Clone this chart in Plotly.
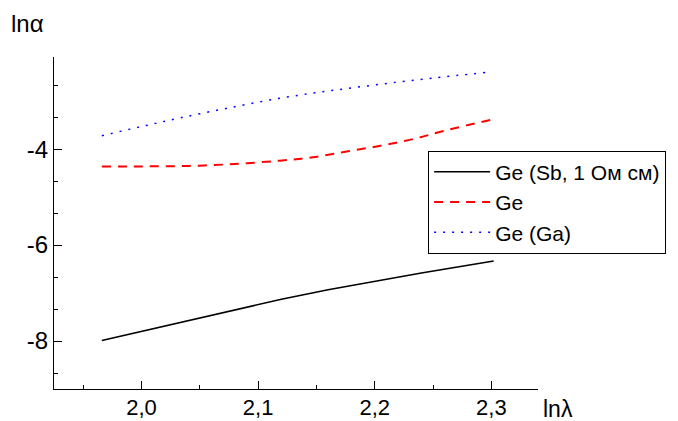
import plotly.graph_objects as go

# Data
x_sb = [1.966, 2.0, 2.04, 2.08, 2.12, 2.16, 2.2, 2.24, 2.28, 2.302]
y_sb = [-7.99, -7.80, -7.59, -7.36, -7.13, -6.93, -6.75, -6.58, -6.42, -6.33]

x_ge = [1.966, 2.0, 2.04, 2.08, 2.1185, 2.147, 2.176, 2.205, 2.233, 2.261, 2.303]
y_ge = [-4.36, -4.36, -4.35, -4.31, -4.24, -4.17, -4.05, -3.93, -3.79, -3.61, -3.37]

x_ga = [1.966, 2.0, 2.033, 2.075, 2.1185, 2.16, 2.204, 2.25, 2.296]
y_ga = [-3.72, -3.53, -3.35, -3.14, -2.94, -2.79, -2.65, -2.52, -2.40]

x_ticks = [2.0, 2.1, 2.2, 2.3]
x_labels = ["2,0", "2,1", "2,2", "2,3"]
y_ticks = [-8, -6, -4]
y_labels = ["-8", "-6", "-4"]

names = ["Ge (Sb, 1 Ом см)", "Ge", "Ge (Ga)"]

FONT = "Liberation Sans, Arial, sans-serif"

fig = go.Figure()
fig.add_trace(go.Scatter(x=x_sb, y=y_sb, mode="lines", name=names[0],
                         line=dict(color="black", width=1.5)))
fig.add_trace(go.Scatter(x=x_ge, y=y_ge, mode="lines", name=names[1],
                         line=dict(color="red", width=2, dash="9px,7px", shape="spline")))
fig.add_trace(go.Scatter(x=x_ga, y=y_ga, mode="lines", name=names[2],
                         line=dict(color="blue", width=1.5, dash="2px,7px", shape="spline")))

fig.update_layout(
    width=678, height=421,
    margin=dict(l=54, r=140, t=57, b=32, autoexpand=False),
    paper_bgcolor="white", plot_bgcolor="white",
    font=dict(family=FONT, color="black", size=22),
    showlegend=True,
    legend=dict(x=0.773, y=0.718, xanchor="left", yanchor="top",
                bordercolor="black", borderwidth=1, bgcolor="white",
                font=dict(size=21, family=FONT), itemwidth=56,
                tracegroupgap=0),
    xaxis=dict(range=[1.925, 2.34], showgrid=False, zeroline=False,
               automargin=False,
               showline=True, linecolor="black", linewidth=1.2,
               ticks="inside", ticklen=8, tickwidth=1, tickcolor="black",
               tickvals=x_ticks, ticktext=x_labels, ticklabelstandoff=-2,
               tickfont=dict(size=22, family=FONT),
               minor=dict(dtick=0.05, tick0=2.0, ticks="inside", ticklen=4,
                          tickwidth=1, tickcolor="black", showgrid=False)),
    yaxis=dict(range=[-9.0, -2.08], showgrid=False, zeroline=False,
               automargin=False,
               showline=True, linecolor="black", linewidth=1.2,
               ticks="inside", ticklen=8, tickwidth=1, tickcolor="black",
               tickvals=y_ticks, ticktext=y_labels,
               tickfont=dict(size=24, family=FONT),
               minor=dict(dtick=2/3, tick0=-4, ticks="inside", ticklen=4,
                          tickwidth=1, tickcolor="black", showgrid=False)),
    annotations=[
        dict(text="lnα", xref="paper", yref="paper", x=-0.092, y=1.1,
             xanchor="left", yanchor="middle", showarrow=False,
             font=dict(size=24, family=FONT)),
        dict(text="lnλ", xref="paper", yref="paper", x=1.006, y=-0.06,
             xanchor="left", yanchor="middle", showarrow=False,
             font=dict(size=23, family=FONT)),
    ],
)

fig.write_html("out.html", config={"displayModeBar": False},
               post_script="document.body.style.margin='0';document.body.style.overflow='hidden';")
